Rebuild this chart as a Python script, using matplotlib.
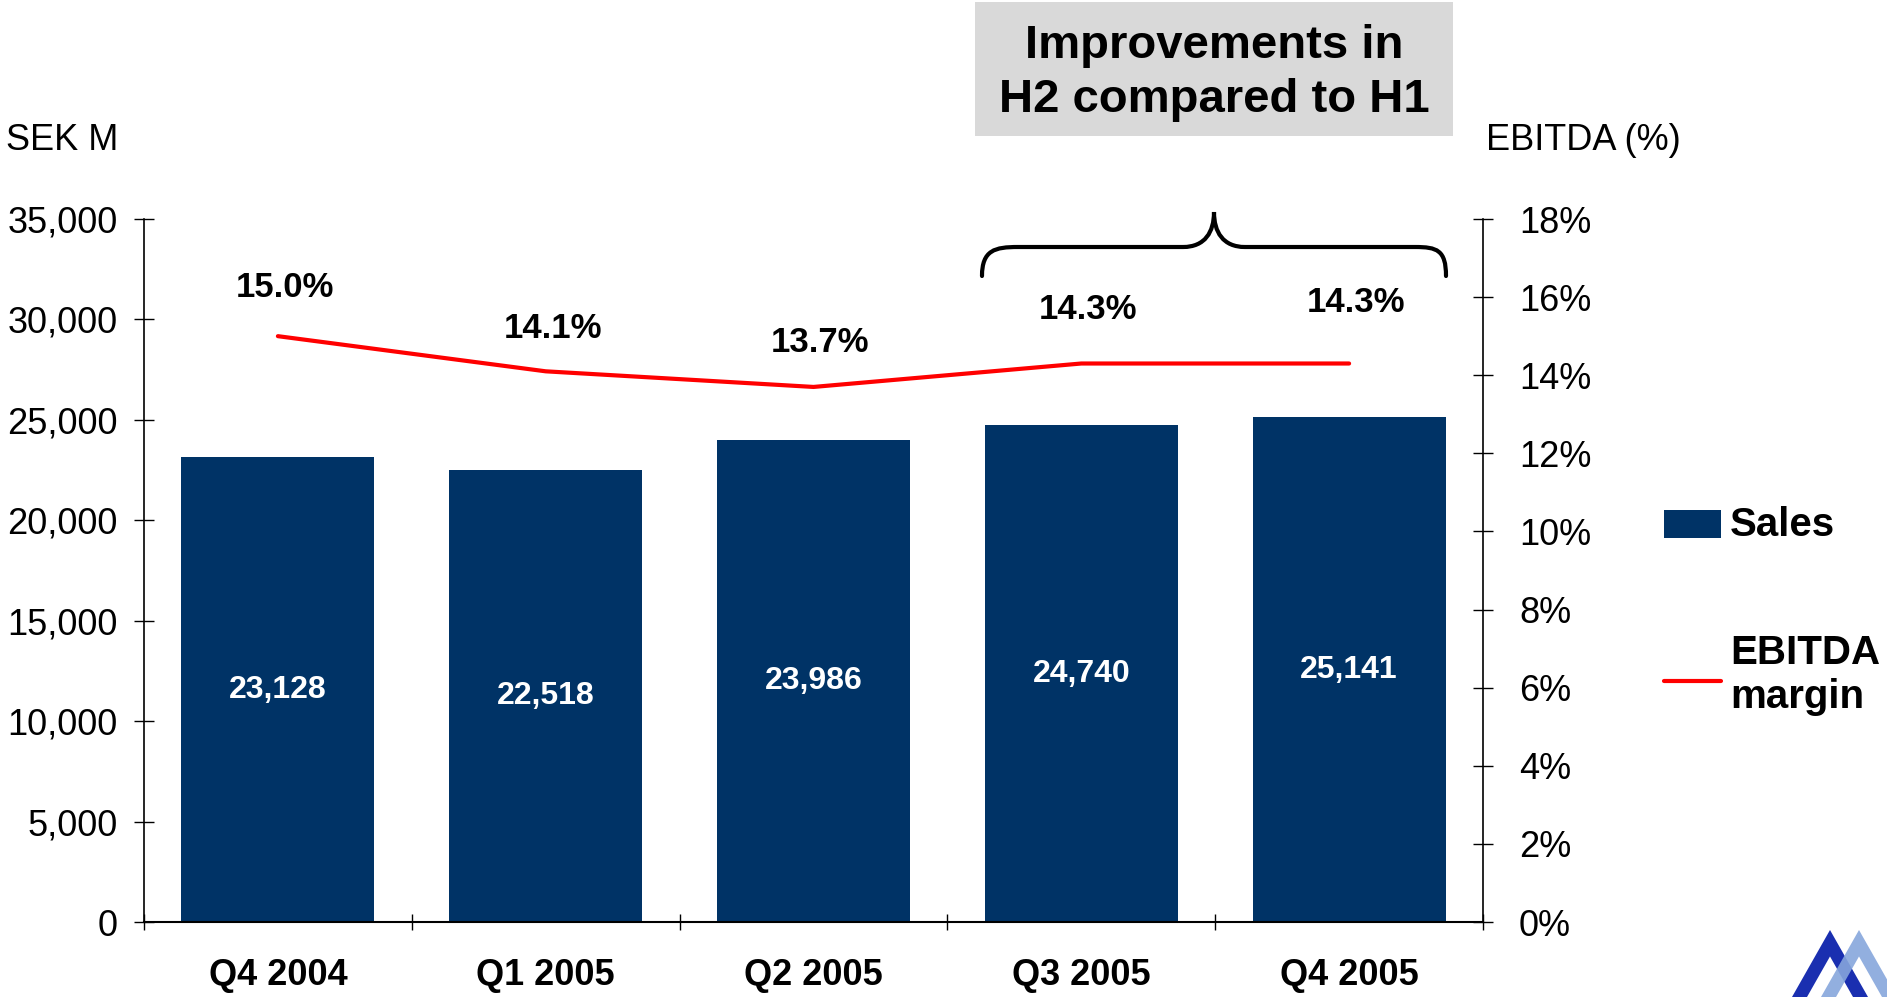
import matplotlib.pyplot as plt
import numpy as np
from matplotlib.patches import Rectangle, Polygon, PathPatch
from matplotlib.path import Path

plt.rcParams['font.family'] = ['Liberation Sans', 'DejaVu Sans']

# donnees
quarters = ['Q4 2004', 'Q1 2005', 'Q2 2005', 'Q3 2005', 'Q4 2005']
sales = [23128, 22518, 23986, 24740, 25141]
ebitda_margin = [15.0, 14.1, 13.7, 14.3, 14.3]
sales_ticks = [0, 5000, 10000, 15000, 20000, 25000, 30000, 35000]
margin_ticks = [0, 2, 4, 6, 8, 10, 12, 14, 16, 18]

# decalage vertical des etiquettes de marge (points)
label_offsets = [35, 31, 32, 39, 44]

W, H = 1887, 997
bar_color = '#003366'
line_color = '#ff0000'

fig = plt.figure(figsize=(W / 100, H / 100), dpi=100)
ax = fig.add_axes([144 / W, 1 - 922 / H, (1483 - 144) / W, (922 - 219) / H])

x = np.arange(len(quarters))
ax.bar(x, sales, width=0.72, color=bar_color, zorder=2)
for xi, v in zip(x, sales):
    ax.text(xi, v / 2, f'{v:,}', ha='center', va='center', color='white',
            fontsize=23, fontweight='bold', zorder=3)

ax.set_xlim(-0.5, len(quarters) - 0.5)
ax.set_ylim(0, 35000)
ax.set_yticks(sales_ticks)
ax.set_yticklabels([f'{t:,}' for t in sales_ticks])
ax.tick_params(axis='y', direction='inout', length=14, width=1, pad=12, labelsize=26)

ax.set_xticks(x)
ax.set_xticklabels(quarters, fontsize=26, fontweight='bold')
ax.tick_params(axis='x', which='major', length=0, pad=26)
ax.set_xticks(np.arange(-0.5, len(quarters), 1), minor=True)
ax.tick_params(axis='x', which='minor', direction='inout', length=12, width=1)

for s in ['top', 'right']:
    ax.spines[s].set_visible(False)
ax.spines['left'].set_linewidth(1.2)
ax.spines['bottom'].set_linewidth(1.5)

# axe de droite : marge EBITDA
ax2 = ax.twinx()
ax2.plot(x, ebitda_margin, color=line_color, lw=3, solid_capstyle='round', zorder=4)
ax2.set_ylim(0, 18)
ax2.set_yticks(margin_ticks)
ax2.set_yticklabels([f'{t}%' for t in margin_ticks])
ax2.tick_params(axis='y', direction='inout', length=14, width=1, pad=19, labelsize=26)
for s in ['top', 'left', 'bottom']:
    ax2.spines[s].set_visible(False)
ax2.spines['right'].set_linewidth(1.2)

for xi, v, off in zip(x, ebitda_margin, label_offsets):
    ax2.annotate(f'{v:.1f}%', (xi, v), xytext=(5, off), textcoords='offset points',
                 ha='center', va='center', fontsize=25, fontweight='bold')

# titres des axes
fig.text(6 / W, 1 - 141 / H, 'SEK M', fontsize=26, va='center', ha='left')
fig.text(1486 / W, 1 - 141 / H, 'EBITDA (%)', fontsize=26, va='center', ha='left')

# encadre gris
fig.patches.append(Rectangle((975 / W, 1 - 136 / H), (1453 - 975) / W, 134 / H,
                             transform=fig.transFigure, facecolor='#d9d9d9',
                             edgecolor='none', zorder=0))
fig.text(1214 / W, 1 - 73 / H, 'Improvements in\nH2 compared to H1', ha='center',
         va='center', fontsize=34, fontweight='bold', linespacing=1.32)

# accolade
def fp(px, py):
    return (px / W, 1 - py / H)

verts = [fp(982, 276), fp(982, 250), fp(995, 247), fp(1018, 247),
         fp(1183, 247),
         fp(1205, 247), fp(1214, 232), fp(1214, 212),
         fp(1214, 232), fp(1223, 247), fp(1245, 247),
         fp(1415, 247),
         fp(1437, 247), fp(1446, 250), fp(1446, 276)]
codes = [Path.MOVETO, Path.CURVE4, Path.CURVE4, Path.CURVE4,
         Path.LINETO,
         Path.CURVE4, Path.CURVE4, Path.CURVE4,
         Path.CURVE4, Path.CURVE4, Path.CURVE4,
         Path.LINETO,
         Path.CURVE4, Path.CURVE4, Path.CURVE4]
fig.patches.append(PathPatch(Path(verts, codes), transform=fig.transFigure,
                             facecolor='none', edgecolor='black', lw=3,
                             capstyle='round'))

# legende
fig.patches.append(Rectangle(fp(1664, 538), (1721 - 1664) / W, 28 / H,
                             transform=fig.transFigure, facecolor=bar_color,
                             edgecolor='none'))
fig.text(1730 / W, 1 - 525 / H, 'Sales', fontsize=29, fontweight='bold', va='center')
fig.lines.append(plt.Line2D([1664 / W, 1721 / W], [1 - 681 / H, 1 - 681 / H],
                            transform=fig.transFigure, color=line_color, lw=3,
                            solid_capstyle='round'))
fig.text(1730 / W, 1 - 675 / H, 'EBITDA\nmargin', fontsize=29, fontweight='bold',
         va='center', linespacing=1.2)

# logo
def chevron(ax_x, ax_y, half, thick, bottom=997):
    depth = bottom - ax_y
    inner = ax_y + thick * depth / half
    pts = [(ax_x - half, bottom), (ax_x, ax_y), (ax_x + half, bottom),
           (ax_x + half - thick, bottom), (ax_x, inner), (ax_x - half + thick, bottom)]
    return [fp(px, py) for px, py in pts]

fig.patches.append(Polygon(chevron(1830, 930, 38, 15), closed=True,
                           transform=fig.transFigure, facecolor='#1a2fb0',
                           edgecolor='none'))
fig.patches.append(Polygon(chevron(1859, 930, 38, 15), closed=True,
                           transform=fig.transFigure, facecolor='#86a6dc',
                           edgecolor='none', alpha=0.9))

fig.savefig('out.png', dpi=100)
